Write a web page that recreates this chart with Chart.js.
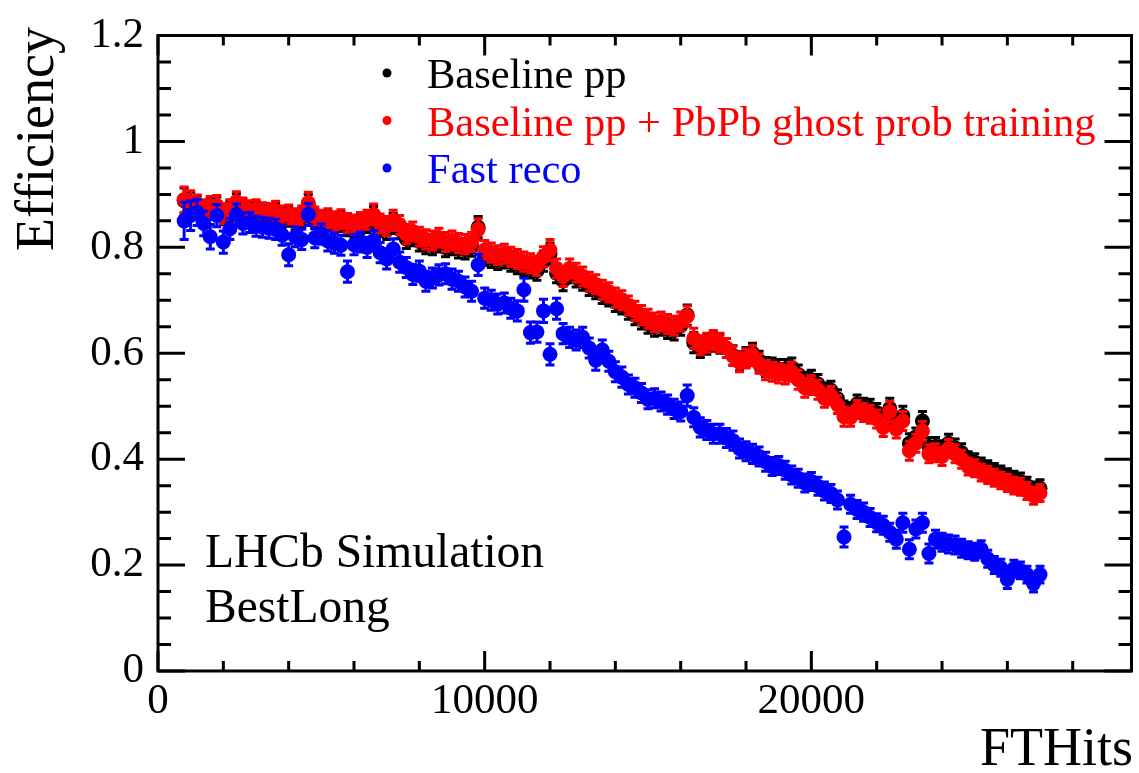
<!DOCTYPE html>
<html>
<head>
<meta charset="utf-8">
<script src="https://cdn.jsdelivr.net/npm/chart.js@4.4.1/dist/chart.umd.min.js"></script>
<style>
  html, body { margin: 0; padding: 0; background: #fff; }
  #wrap { width: 1139px; height: 773px; }
</style>
</head>
<body>
<div id="wrap"><canvas id="effChart" width="1139" height="773"></canvas></div>
<script>
// Bin centres (FTHits)
const fthits = [
  800, 1000, 1200, 1400, 1600, 1800, 2000, 2200, 2400, 2600,
  2800, 3000, 3200, 3400, 3600, 3800, 4000, 4200, 4400, 4600,
  4800, 5000, 5200, 5400, 5600, 5800, 6000, 6200, 6400, 6600,
  6800, 7000, 7200, 7400, 7600, 7800, 8000, 8200, 8400, 8600,
  8800, 9000, 9200, 9400, 9600, 9800, 10000, 10200, 10400, 10600,
  10800, 11000, 11200, 11400, 11600, 11800, 12000, 12200, 12400, 12600,
  12800, 13000, 13200, 13400, 13600, 13800, 14000, 14200, 14400, 14600,
  14800, 15000, 15200, 15400, 15600, 15800, 16000, 16200, 16400, 16600,
  16800, 17000, 17200, 17400, 17600, 17800, 18000, 18200, 18400, 18600,
  18800, 19000, 19200, 19400, 19600, 19800, 20000, 20200, 20400, 20600,
  20800, 21000, 21200, 21400, 21600, 21800, 22000, 22200, 22400, 22600,
  22800, 23000, 23200, 23400, 23600, 23800, 24000, 24200, 24400, 24600,
  24800, 25000, 25200, 25400, 25600, 25800, 26000, 26200, 26400, 26600,
  26800, 27000
];

// Baseline pp
const effBaseline = [
  0.888, 0.882, 0.876, 0.868, 0.873, 0.876, 0.862, 0.868, 0.882, 0.872,
  0.866, 0.869, 0.862, 0.861, 0.865, 0.856, 0.858, 0.850, 0.856, 0.880,
  0.853, 0.847, 0.850, 0.844, 0.848, 0.840, 0.837, 0.843, 0.846, 0.857,
  0.838, 0.833, 0.845, 0.834, 0.816, 0.821, 0.811, 0.806, 0.804, 0.809,
  0.800, 0.804, 0.798, 0.796, 0.801, 0.838, 0.784, 0.780, 0.776, 0.779,
  0.773, 0.768, 0.764, 0.760, 0.756, 0.774, 0.788, 0.751, 0.737, 0.751,
  0.743, 0.737, 0.727, 0.721, 0.712, 0.707, 0.697, 0.692, 0.682, 0.672,
  0.664, 0.656, 0.650, 0.652, 0.646, 0.643, 0.652, 0.672, 0.620, 0.610,
  0.616, 0.622, 0.618, 0.610, 0.596, 0.585, 0.593, 0.600, 0.586, 0.574,
  0.573, 0.570, 0.570, 0.573, 0.560, 0.546, 0.550, 0.542, 0.527, 0.530,
  0.514, 0.492, 0.490, 0.504, 0.498, 0.496, 0.488, 0.472, 0.496, 0.470,
  0.482, 0.430, 0.442, 0.472, 0.424, 0.424, 0.418, 0.430, 0.421, 0.412,
  0.398, 0.394, 0.386, 0.381, 0.376, 0.371, 0.366, 0.361, 0.358, 0.350,
  0.341, 0.345
];

// Baseline pp + PbPb ghost prob training
const effPbPbGhost = [
  0.890, 0.885, 0.878, 0.870, 0.876, 0.879, 0.864, 0.871, 0.886, 0.875,
  0.870, 0.872, 0.866, 0.865, 0.869, 0.860, 0.862, 0.855, 0.860, 0.884,
  0.858, 0.852, 0.855, 0.849, 0.853, 0.846, 0.843, 0.848, 0.852, 0.862,
  0.845, 0.840, 0.851, 0.842, 0.825, 0.830, 0.820, 0.815, 0.813, 0.818,
  0.810, 0.813, 0.808, 0.806, 0.810, 0.834, 0.795, 0.790, 0.785, 0.788,
  0.782, 0.778, 0.773, 0.770, 0.765, 0.782, 0.795, 0.760, 0.745, 0.760,
  0.752, 0.745, 0.735, 0.730, 0.720, 0.715, 0.705, 0.700, 0.690, 0.680,
  0.672, 0.665, 0.658, 0.660, 0.655, 0.652, 0.660, 0.670, 0.628, 0.615,
  0.620, 0.625, 0.620, 0.610, 0.595, 0.583, 0.590, 0.596, 0.580, 0.568,
  0.565, 0.562, 0.560, 0.565, 0.550, 0.535, 0.540, 0.531, 0.515, 0.520,
  0.503, 0.480, 0.479, 0.494, 0.488, 0.485, 0.476, 0.460, 0.490, 0.457,
  0.472, 0.416, 0.430, 0.453, 0.410, 0.412, 0.405, 0.420, 0.410, 0.400,
  0.386, 0.383, 0.375, 0.370, 0.365, 0.360, 0.355, 0.350, 0.348, 0.340,
  0.331, 0.336
];

// Fast reco
const effFastReco = [
  0.850, 0.860, 0.866, 0.845, 0.820, 0.860, 0.810, 0.835, 0.862, 0.845,
  0.847, 0.840, 0.838, 0.836, 0.834, 0.823, 0.786, 0.820, 0.815, 0.862,
  0.818, 0.825, 0.812, 0.808, 0.804, 0.754, 0.805, 0.810, 0.800, 0.813,
  0.790, 0.778, 0.797, 0.772, 0.762, 0.749, 0.755, 0.736, 0.742, 0.748,
  0.750, 0.740, 0.736, 0.725, 0.717, 0.767, 0.704, 0.700, 0.693, 0.695,
  0.685, 0.680, 0.720, 0.639, 0.640, 0.680, 0.598, 0.684, 0.637, 0.630,
  0.625, 0.630, 0.610, 0.587, 0.606, 0.585, 0.565, 0.555, 0.541, 0.535,
  0.525, 0.513, 0.515, 0.509, 0.503, 0.495, 0.490, 0.520, 0.479, 0.460,
  0.455, 0.448, 0.448, 0.440, 0.435, 0.420, 0.415, 0.410, 0.405, 0.395,
  0.386, 0.388, 0.379, 0.370, 0.364, 0.355, 0.358, 0.349, 0.340, 0.335,
  0.323, 0.253, 0.315, 0.305, 0.300, 0.290, 0.280, 0.275, 0.262, 0.249,
  0.280, 0.230, 0.268, 0.280, 0.222, 0.249, 0.243, 0.240, 0.238, 0.232,
  0.228, 0.225, 0.230, 0.212, 0.200, 0.195, 0.173, 0.193, 0.190, 0.182,
  0.165, 0.182
];

// Statistical errors (same sample for both baseline variants)
const errBaseline = [
  0.024, 0.022, 0.021, 0.020, 0.020, 0.019, 0.019, 0.019, 0.019, 0.018,
  0.018, 0.018, 0.018, 0.018, 0.018, 0.018, 0.018, 0.018, 0.018, 0.020,
  0.018, 0.018, 0.018, 0.018, 0.018, 0.018, 0.018, 0.018, 0.018, 0.020,
  0.018, 0.018, 0.019, 0.018, 0.018, 0.018, 0.018, 0.018, 0.018, 0.018,
  0.018, 0.018, 0.018, 0.018, 0.018, 0.020, 0.018, 0.018, 0.018, 0.018,
  0.018, 0.018, 0.018, 0.018, 0.018, 0.019, 0.020, 0.018, 0.019, 0.018,
  0.018, 0.018, 0.018, 0.018, 0.018, 0.018, 0.018, 0.018, 0.018, 0.018,
  0.018, 0.018, 0.018, 0.018, 0.018, 0.018, 0.018, 0.019, 0.019, 0.018,
  0.018, 0.018, 0.018, 0.018, 0.018, 0.018, 0.018, 0.019, 0.018, 0.018,
  0.018, 0.018, 0.018, 0.018, 0.018, 0.018, 0.018, 0.018, 0.017, 0.017,
  0.017, 0.018, 0.017, 0.017, 0.017, 0.017, 0.017, 0.017, 0.019, 0.017,
  0.018, 0.018, 0.017, 0.018, 0.017, 0.017, 0.017, 0.017, 0.017, 0.017,
  0.016, 0.016, 0.016, 0.016, 0.016, 0.016, 0.016, 0.016, 0.016, 0.016,
  0.016, 0.016
];

const errFastReco = [
  0.035, 0.028, 0.025, 0.023, 0.023, 0.021, 0.021, 0.020, 0.020, 0.020,
  0.019, 0.019, 0.019, 0.019, 0.019, 0.019, 0.021, 0.019, 0.019, 0.021,
  0.019, 0.019, 0.019, 0.019, 0.019, 0.020, 0.019, 0.019, 0.019, 0.019,
  0.019, 0.019, 0.019, 0.019, 0.019, 0.019, 0.019, 0.019, 0.019, 0.019,
  0.019, 0.019, 0.019, 0.019, 0.019, 0.020, 0.019, 0.019, 0.019, 0.019,
  0.019, 0.019, 0.022, 0.020, 0.019, 0.022, 0.020, 0.020, 0.019, 0.019,
  0.019, 0.019, 0.019, 0.019, 0.019, 0.019, 0.019, 0.019, 0.018, 0.018,
  0.018, 0.018, 0.018, 0.018, 0.018, 0.018, 0.018, 0.020, 0.018, 0.018,
  0.018, 0.018, 0.018, 0.018, 0.018, 0.018, 0.018, 0.018, 0.018, 0.018,
  0.017, 0.017, 0.017, 0.017, 0.017, 0.017, 0.017, 0.017, 0.017, 0.017,
  0.017, 0.019, 0.017, 0.017, 0.017, 0.017, 0.017, 0.017, 0.017, 0.017,
  0.018, 0.018, 0.017, 0.018, 0.018, 0.017, 0.017, 0.017, 0.017, 0.017,
  0.016, 0.016, 0.016, 0.016, 0.016, 0.016, 0.017, 0.016, 0.016, 0.016,
  0.016, 0.016
];

// Axis labels
const xTickLabels = [0, 10000, 20000];
const yTickLabels = [0, 0.2, 0.4, 0.6, 0.8, 1.0, 1.2];

const FONT = "'Liberation Serif', 'Times New Roman', serif";

function toPoints(values, errors) {
    return fthits.map((x, i) => ({ x: x, y: values[i], err: errors[i] }));
}

// ROOT-like frame, inward ticks, error bars and the text annotations
const rootStyle = {
    id: 'rootStyle',
    beforeDatasetDraw(chart, args) {
        const ds = chart.data.datasets[args.index];
        const yScale = chart.scales.y;
        const ctx = chart.ctx;
        ctx.save();
        ctx.strokeStyle = ds.backgroundColor;
        ctx.lineWidth = 3;
        args.meta.data.forEach((pt, i) => {
            const d = ds.data[i];
            const hi = yScale.getPixelForValue(d.y + d.err);
            const lo = yScale.getPixelForValue(d.y - d.err);
            ctx.beginPath();
            ctx.moveTo(pt.x, hi);
            ctx.lineTo(pt.x, lo);
            ctx.moveTo(pt.x - 4.5, hi);
            ctx.lineTo(pt.x + 4.5, hi);
            ctx.moveTo(pt.x - 4.5, lo);
            ctx.lineTo(pt.x + 4.5, lo);
            ctx.stroke();
        });
        ctx.restore();
    },
    afterDatasetsDraw(chart) {
        const { ctx, chartArea: a, scales } = chart;
        ctx.save();
        ctx.strokeStyle = '#000';
        ctx.lineWidth = 3;
        ctx.strokeRect(a.left, a.top, a.right - a.left, a.bottom - a.top);

        ctx.beginPath();
        // x ticks every 2000, major every 10000
        for (let v = 0; v <= scales.x.max; v += 2000) {
            const px = scales.x.getPixelForValue(v);
            const len = v % 10000 === 0 ? 20 : 10;
            ctx.moveTo(px, a.bottom);
            ctx.lineTo(px, a.bottom - len);
            ctx.moveTo(px, a.top);
            ctx.lineTo(px, a.top + len);
        }
        // y ticks every 0.05, major every 0.2
        for (let k = 0; k <= 24; k++) {
            const py = scales.y.getPixelForValue(k * 0.05);
            const len = k % 4 === 0 ? 27 : 13;
            ctx.moveTo(a.left, py);
            ctx.lineTo(a.left + len, py);
            ctx.moveTo(a.right, py);
            ctx.lineTo(a.right - len, py);
        }
        ctx.stroke();
        ctx.restore();
    },
    afterDraw(chart) {
        const ctx = chart.ctx;
        ctx.save();

        // Legend
        ctx.font = `42.5px ${FONT}`;
        ctx.textBaseline = 'alphabetic';
        ctx.textAlign = 'left';
        chart.data.datasets.forEach((ds, i) => {
            const base = 88 + i * 47.5;
            ctx.fillStyle = ds.backgroundColor;
            ctx.beginPath();
            ctx.arc(387, base - 15, 4.5, 0, Math.PI * 2);
            ctx.fill();
            ctx.fillText(ds.label, 427, base);
        });

        ctx.fillStyle = '#000';
        ctx.font = `47.5px ${FONT}`;
        ctx.fillText('LHCb Simulation', 205, 567);
        ctx.fillText('BestLong', 205, 622);

        // Axis titles
        ctx.font = `54px ${FONT}`;
        ctx.textAlign = 'right';
        ctx.fillText('FTHits', 1133, 765);

        ctx.translate(53, 27);
        ctx.rotate(-Math.PI / 2);
        ctx.fillText('Efficiency', 0, 0);
        ctx.restore();
    }
};

const ctx = document.getElementById('effChart').getContext('2d');
new Chart(ctx, {
    type: 'scatter',
    data: {
        datasets: [
            {
                label: 'Baseline pp',
                data: toPoints(effBaseline, errBaseline),
                backgroundColor: '#000000',
                order: 3
            },
            {
                label: 'Baseline pp + PbPb ghost prob training',
                data: toPoints(effPbPbGhost, errBaseline),
                backgroundColor: '#ff0000',
                order: 2
            },
            {
                label: 'Fast reco',
                data: toPoints(effFastReco, errFastReco),
                backgroundColor: '#0000ff',
                order: 1
            }
        ]
    },
    options: {
        responsive: false,
        devicePixelRatio: 1,
        animation: false,
        layout: {
            padding: { top: 25, right: 6, left: 0, bottom: 0 }
        },
        elements: {
            point: {
                radius: 7.5,
                borderWidth: 0,
                hoverRadius: 7.5
            }
        },
        plugins: {
            legend: { display: false },
            tooltip: { enabled: false }
        },
        scales: {
            x: {
                type: 'linear',
                min: 0,
                max: 29800,
                grid: { display: false, drawTicks: false },
                border: { display: false },
                afterFit: (scale) => { scale.height = 102; },
                afterBuildTicks: (scale) => {
                    scale.ticks = xTickLabels.map(v => ({ value: v }));
                },
                ticks: {
                    autoSkip: false,
                    maxRotation: 0,
                    padding: 9,
                    color: '#000',
                    font: { family: FONT, size: 43, lineHeight: 1 },
                    callback: (v) => String(v)
                }
            },
            y: {
                min: 0,
                max: 1.2,
                grid: { display: false, drawTicks: false },
                border: { display: false },
                afterFit: (scale) => { scale.width = 158; },
                afterBuildTicks: (scale) => {
                    scale.ticks = yTickLabels.map(v => ({ value: v }));
                },
                ticks: {
                    padding: 14,
                    color: '#000',
                    font: { family: FONT, size: 43, lineHeight: 1 },
                    callback: (v) => String(+v.toFixed(2))
                }
            }
        }
    },
    plugins: [rootStyle]
});
</script>
</body>
</html>
